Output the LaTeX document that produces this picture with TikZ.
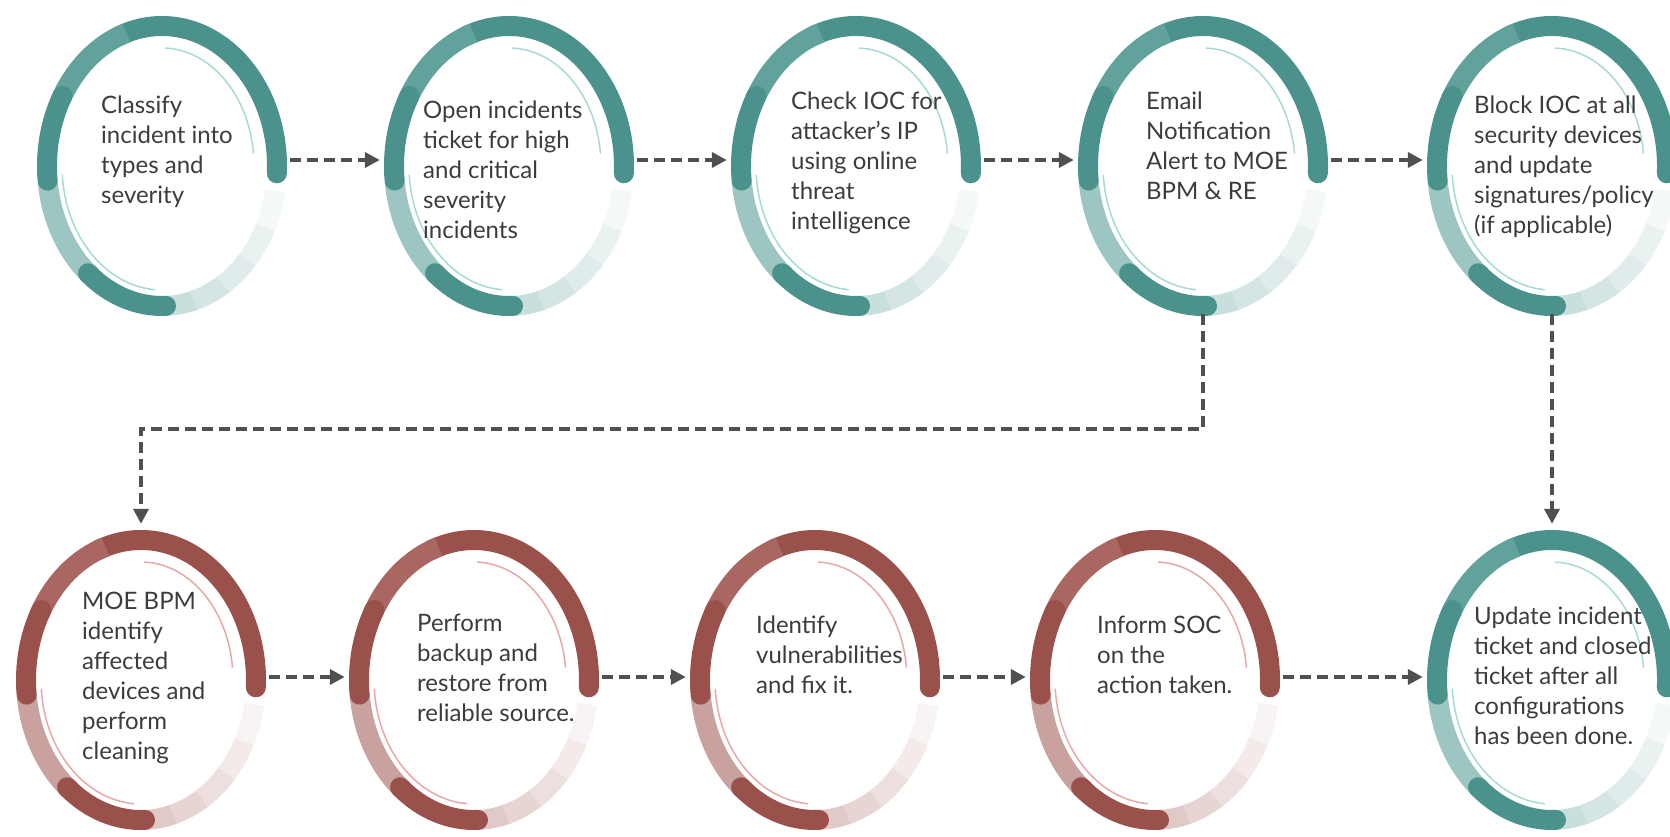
\documentclass[tikz,border=0pt]{standalone}
\usepackage{fontspec}
\setmainfont{Lato}
\usepackage{tikz}
\usetikzlibrary{arrows.meta}

\definecolor{ctdark}{HTML}{4B928D}
\definecolor{ctmid}{HTML}{62A29D}
\definecolor{ctlight}{HTML}{9DC6C3}
\definecolor{ctfade}{HTML}{C9DFDD}
\definecolor{ctthin}{HTML}{A6DAD6}
\definecolor{crdark}{HTML}{9A514C}
\definecolor{crmid}{HTML}{AA6661}
\definecolor{crlight}{HTML}{C9A19E}
\definecolor{crfade}{HTML}{E0CAC8}
\definecolor{crthin}{HTML}{E6A9A7}
\definecolor{inktext}{HTML}{3C3C3C}
\definecolor{inkarrow}{HTML}{505050}

% one piece of a ring round node #1
\newcommand{\ringseg}[4]{\draw[line width=20pt,#2] (#1.center) ++(#3:115 and 140) arc[start angle=#3, end angle=#4, x radius=115, y radius=140];}
% the whole ring, #2 = colour prefix
\newcommand{\flowring}[2]{%
  \ringseg{#1}{#2dark,line cap=round}{-3}{112}
  \ringseg{#1}{#2mid}{108}{152}
  \ringseg{#1}{#2fade}{270}{287}
  \ringseg{#1}{#2fade!80!white}{286}{303}
  \ringseg{#1}{#2fade!60!white}{302}{319}
  \ringseg{#1}{#2fade!40!white}{318}{335}
  \ringseg{#1}{#2fade!20!white}{334}{350}
  \ringseg{#1}{#2light}{186}{232}
  \ringseg{#1}{#2dark,line cap=round}{150}{186}
  \ringseg{#1}{#2dark,line cap=round}{230}{272}
  \draw[#2thin,line width=1.5pt] (#1.center) ++(88:92 and 118) arc[start angle=88, end angle=6, x radius=92, y radius=118];
  \draw[#2thin,line width=1.5pt] (#1.center) ++(184:100 and 124) arc[start angle=184, end angle=266, x radius=100, y radius=124];
}

\begin{document}
\begin{tikzpicture}[x=1pt,y=1pt,
    ring/.style={rectangle, minimum width=250pt, minimum height=296pt, inner sep=0pt},
    ringtext/.style={anchor=north west, align=left, inner sep=0pt, text=inktext,
      font=\fontsize{24}{30}\selectfont},
    flow/.style={draw=inkarrow, line width=4pt, dash pattern=on 11pt off 6pt,
      -{Triangle[length=15pt,width=15pt]}}]
  \useasboundingbox (0,0) rectangle (1670,837);

  % top row
  \node[ring] (c1) at (162,671) {};
  \node[ring] (c2) at (509,671) {};
  \node[ring] (c3) at (856,671) {};
  \node[ring] (c4) at (1203,671) {};
  \node[ring] (c5) at (1552,671) {};
  % bottom row
  \node[ring] (c6) at (141,157) {};
  \node[ring] (c7) at (474,157) {};
  \node[ring] (c8) at (815,157) {};
  \node[ring] (c9) at (1155,157) {};
  \node[ring] (c10) at (1552,157) {};

  \foreach \c in {c1,c2,c3,c4,c5,c10} {\flowring{\c}{ct}}
  \foreach \c in {c6,c7,c8,c9} {\flowring{\c}{cr}}

  \node[ringtext] (t1) at ([shift={(-61,70)}]c1.center) {Classify\\incident into\\types and\\severity};
  \node[ringtext] (t2) at ([shift={(-86,65)}]c2.center) {Open incidents\\ticket for high\\and critical\\severity\\incidents};
  \node[ringtext] (t3) at ([shift={(-65,74)}]c3.center) {Check IOC for\\attacker’s IP\\using online\\threat\\intelligence};
  \node[ringtext] (t4) at ([shift={(-57,74)}]c4.center) {Email\\Notification\\Alert to MOE\\BPM \& RE};
  \node[ringtext] (t5) at ([shift={(-78,70)}]c5.center) {Block IOC at all\\security devices\\and update\\signatures/policy\\(if applicable)};
  \node[ringtext] (t6) at ([shift={(-59,88)}]c6.center) {MOE BPM\\identify\\affected\\devices and\\perform\\cleaning};
  \node[ringtext] (t7) at ([shift={(-57,66)}]c7.center) {Perform\\backup and\\restore from\\reliable source.};
  \node[ringtext] (t8) at ([shift={(-59,64)}]c8.center) {Identify\\vulnerabilities\\and fix it.};
  \node[ringtext] (t9) at ([shift={(-58,64)}]c9.center) {Inform SOC\\on the\\action taken.};
  \node[ringtext] (t10) at ([shift={(-78,73)}]c10.center) {Update incident\\ticket and closed\\ticket after all\\configurations\\has been done.};

  \draw[flow] ([shift={(3,6)}]c1.east) -- ([shift={(-4,6)}]c2.west);
  \draw[flow] ([shift={(3,6)}]c2.east) -- ([shift={(-4,6)}]c3.west);
  \draw[flow] ([shift={(3,6)}]c3.east) -- ([shift={(-4,6)}]c4.west);
  \draw[flow] ([shift={(3,6)}]c4.east) -- ([shift={(-4,6)}]c5.west);
  \draw[flow] (c4.south) -- ([yshift=-115pt]c4.south) -| ([yshift=8pt]c6.north);
  \draw[flow] (c5.south) -- ([yshift=8pt]c10.north);
  \draw[flow] ([shift={(3,3)}]c6.east) -- ([shift={(-4,3)}]c7.west);
  \draw[flow] ([shift={(3,3)}]c7.east) -- ([shift={(-4,3)}]c8.west);
  \draw[flow] ([shift={(3,3)}]c8.east) -- ([shift={(-4,3)}]c9.west);
  \draw[flow] ([shift={(3,3)}]c9.east) -- ([shift={(-4,3)}]c10.west);
\end{tikzpicture}
\end{document}
